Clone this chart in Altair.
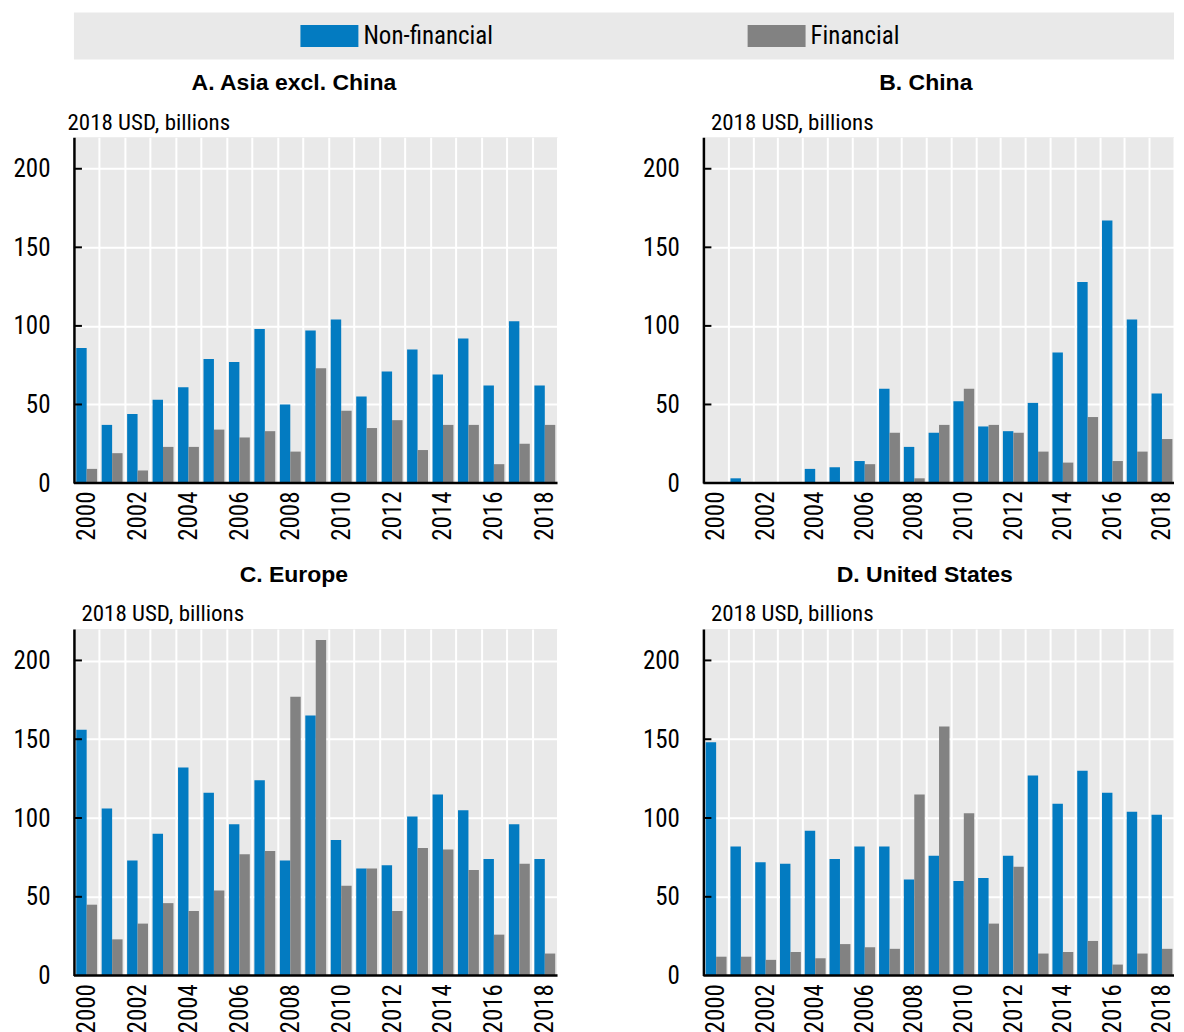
import altair as alt
import pandas as pd

# ---------------- data ----------------
years = list(range(2000, 2019))
series = ["Non-financial", "Financial"]
colors = ["#037BC1", "#828282"]

asia_nonfin = [86, 37, 44, 53, 61, 79, 77, 98, 50, 97, 104, 55, 71, 85, 69, 92, 62, 103, 62]
asia_fin = [9, 19, 8, 23, 23, 34, 29, 33, 20, 73, 46, 35, 40, 21, 37, 37, 12, 25, 37]
china_nonfin = [0, 3, 0, 0, 9, 10, 14, 60, 23, 32, 52, 36, 33, 51, 83, 128, 167, 104, 57]
china_fin = [0, 0, 0, 0, 0, 0, 12, 32, 3, 37, 60, 37, 32, 20, 13, 42, 14, 20, 28]
europe_nonfin = [156, 106, 73, 90, 132, 116, 96, 124, 73, 165, 86, 68, 70, 101, 115, 105, 74, 96, 74]
europe_fin = [45, 23, 33, 46, 41, 54, 77, 79, 177, 213, 57, 68, 41, 81, 80, 67, 26, 71, 14]
us_nonfin = [148, 82, 72, 71, 92, 74, 82, 82, 61, 76, 60, 62, 76, 127, 109, 130, 116, 104, 102]
us_fin = [12, 12, 10, 15, 11, 20, 18, 17, 115, 158, 103, 33, 69, 14, 15, 22, 7, 14, 17]

panel_titles = ["A. Asia excl. China", "B. China", "C. Europe", "D. United States"]
unit_label = "2018 USD, billions"
y_ticks = [0, 50, 100, 150, 200]

NARROW = "Liberation Sans Narrow, Arial Narrow, Roboto Condensed, sans-serif"
BOLD = "Liberation Sans, Arial, sans-serif"
W_LEFT, W_RIGHT = 484, 471

color_scale = alt.Scale(domain=series, range=colors)


def panel(title, nonfin, fin, title_x, width, height, title_dx):
    df = pd.DataFrame({
        "year": years * 2,
        "series": [series[0]] * len(years) + [series[1]] * len(years),
        "value": nonfin + fin,
    })
    bars = alt.Chart(df).mark_bar().encode(
        x=alt.X(
            "year:O",
            scale=alt.Scale(paddingInner=0, paddingOuter=0),
            axis=alt.Axis(
                title=None, labelAngle=-90,
                labelExpr="datum.value % 2 == 0 ? datum.label : ''",
                labelFont=NARROW, labelFontSize=25, labelColor="black",
                labelPadding=8, labelAlign="right", labelBaseline="middle",
                ticks=False, domain=False, grid=True, gridColor="white",
                gridWidth=2, gridOpacity=1, tickBand="extent",
            ),
        ),
        xOffset=alt.XOffset("series:N", sort=series,
                            scale=alt.Scale(domain=series, paddingInner=0, paddingOuter=0.22)),
        y=alt.Y(
            "value:Q",
            scale=alt.Scale(domain=[0, 220], nice=False),
            axis=alt.Axis(
                values=y_ticks, title=unit_label, titleAngle=0, titleAlign="left",
                titleBaseline="alphabetic", titleX=title_x, titleY=-8,
                titleFont=NARROW, titleFontSize=23, titleFontWeight="normal",
                titleColor="black",
                labelFont=NARROW, labelFontSize=25, labelColor="black",
                labelPadding=24, ticks=False, domain=True, domainColor="black",
                domainWidth=2.5, grid=True, gridColor="white", gridWidth=2,
                gridOpacity=1,
            ),
        ),
        color=alt.Color("series:N", sort=series, scale=color_scale, legend=None),
    )
    tick_df = pd.DataFrame({"v": y_ticks[1:]})
    ticks = alt.Chart(tick_df).mark_rule(color="black", strokeWidth=2).encode(
        y="v:Q", x=alt.value(0), x2=alt.value(8)
    )
    base_df = pd.DataFrame({"v": [0]})
    baseline = alt.Chart(base_df).mark_rule(color="black", strokeWidth=2.5).encode(y="v:Q")
    return alt.layer(bars, ticks, baseline).properties(
        width=width, height=height,
        title=alt.TitleParams(
            title, font=BOLD, fontSize=23, fontWeight="bold", color="black",
            anchor="middle", frame="bounds", dx=title_dx, offset=16,
        ),
    )


pA = panel(panel_titles[0], asia_nonfin, asia_fin, -7, W_LEFT, 346, 8)
pB = panel(panel_titles[1], china_nonfin, china_fin, 7, W_RIGHT, 346, 17)
pC = panel(panel_titles[2], europe_nonfin, europe_fin, 7, W_LEFT, 347, 8)
pD = panel(panel_titles[3], us_nonfin, us_fin, 7, W_RIGHT, 347, 16)

# ---------------- legend band ----------------
leg_df = pd.DataFrame({"series": series, "row": ["legend", "legend"]})
leg_base = alt.Chart(leg_df).encode(
    x=alt.X("series:N", sort=series, axis=None,
            scale=alt.Scale(domain=series, paddingInner=0, paddingOuter=0.23, align=0.155)),
    y=alt.Y("row:N", axis=None),
)
swatch = leg_base.mark_rect(width=58, height=22).encode(
    color=alt.Color("series:N", sort=series, scale=color_scale, legend=None)
)
leg_text = leg_base.mark_text(
    align="left", baseline="middle", dx=34, font=NARROW, fontSize=25, color="black"
).encode(text="series:N")
legend_view = alt.layer(swatch, leg_text).properties(width=1101, height=47)

row1 = alt.hconcat(pA, pB, spacing=146, bounds="flush").resolve_scale(
    x="independent", y="independent")
row2 = alt.hconcat(pC, pD, spacing=146, bounds="flush").resolve_scale(
    x="independent", y="independent")
rows = alt.vconcat(row1, row2, spacing=23).resolve_scale(x="independent", y="independent")

chart = alt.vconcat(legend_view, rows, spacing=13).resolve_scale(
    x="independent", y="independent"
).properties(
    padding={"left": 4, "top": 4, "right": 0, "bottom": 0}
).configure_view(stroke=None, fill="#e9e9e9")

chart.save("out.html", embed_options={"renderer": "svg", "actions": False})
